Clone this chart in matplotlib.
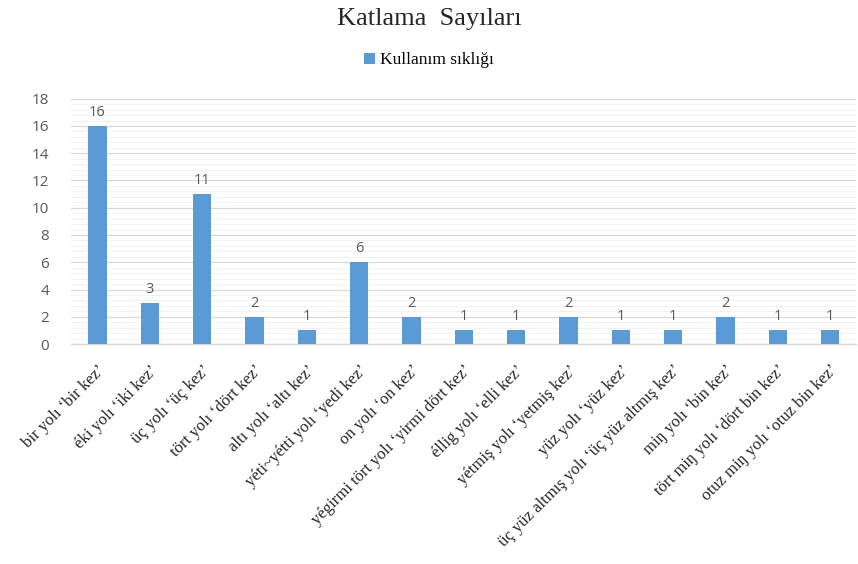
import numpy as np
from matplotlib import pyplot as plt
from matplotlib.ticker import MultipleLocator

categories = ["bir yolı ‘bir kez’", "éki yolı ‘iki kez’", "üç yolı ‘üç kez’",
              "tört yolı ‘dört kez’", "altı yolı ‘altı kez’", "yéti~yétti yolı ‘yedi kez’",
              "on yolı ‘on kez’", "yégirmi tört yolı ‘yirmi dört kez’", "éllig yolı ‘elli kez’",
              "yétmiş yolı ‘yetmiş kez’", "yüz yolı ‘yüz kez’",
              "üç yüz altmış yolı ‘üç yüz altmış kez’", "miŋ yolı ‘bin kez’",
              "tört miŋ yolı ‘dört bin kez’", "otuz miŋ yolı ‘otuz bin kez’"]
values = [16, 3, 11, 2, 1, 6, 2, 1, 1, 2, 1, 1, 2, 1, 1]
series_name = "Kullanım sıklığı"
title = "Katlama  Sayıları"

serif = ['Liberation Serif', 'DejaVu Serif']
sans = ['Open Sans', 'DejaVu Sans']
blue = '#5B9BD5'
grey = '#595959'

fig = plt.figure(figsize=(8.58, 5.64), dpi=100)
ax = fig.add_axes([0.083, 0.39, 0.915, 0.435])

x = np.arange(len(categories))
bars = ax.bar(x, values, width=0.35, color=blue, label=series_name, zorder=3)
for xi, v in zip(x, values):
    ax.text(xi, v + 0.45, str(v), ha='center', va='bottom', fontsize=10.5,
            color=grey, family=sans)

ax.set_xlim(-0.5, len(categories) - 0.5)
ax.set_ylim(0, 18)
ax.yaxis.set_major_locator(MultipleLocator(2))
ax.yaxis.set_minor_locator(MultipleLocator(0.4))
ax.grid(axis='y', which='major', color='#D9D9D9', lw=0.9, zorder=0)
ax.grid(axis='y', which='minor', color='#F2F2F2', lw=0.7, zorder=0)
for s in ['left', 'right', 'top']:
    ax.spines[s].set_visible(False)
ax.spines['bottom'].set_color('#D9D9D9')
ax.spines['bottom'].set_linewidth(1.0)
ax.tick_params(axis='both', which='both', length=0)
ax.tick_params(axis='y', labelsize=11, labelcolor=grey, pad=16)
for lab in ax.get_yticklabels():
    lab.set_family(sans)

ax.set_xticks(x)
ax.set_xticklabels(categories, rotation=45, ha='right', rotation_mode='anchor',
                   fontsize=12, family=serif, color='#262626')
ax.tick_params(axis='x', pad=13)

fig.suptitle(title, y=0.985, fontsize=19, family=serif, color='#262626')
fig.legend(loc='upper center', bbox_to_anchor=(0.5, 0.935), frameon=False,
           prop={'family': serif, 'size': 12.5}, handlelength=0.6, handleheight=0.6,
           handletextpad=0.3)

fig.savefig('out.png', dpi=100)
